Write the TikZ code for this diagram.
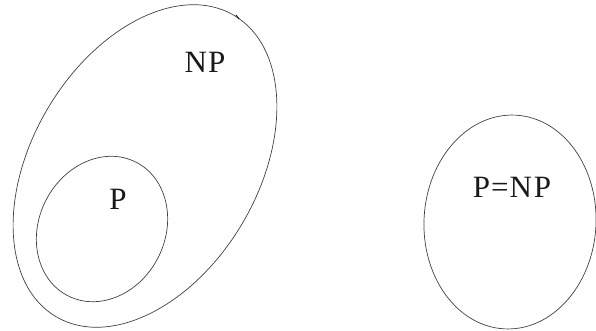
\documentclass[tikz,border=0pt]{standalone}
\usepackage{fontspec}
\setmainfont{Liberation Serif}
\begin{document}
\begin{tikzpicture}[x=1pt,y=1pt,
  setline/.style={draw=black!75,line width=0.7pt},
  lbl/.style={font=\fontsize{31}{31}\selectfont,inner sep=0pt,text=black!90}]
\useasboundingbox (0,0) rectangle (596,330);
\draw[setline,rotate around={-30.6:(145,164)}] (145,164) ellipse [x radius=113,y radius=175];
\draw[setline,rotate around={-27:(102,101)}] (102,101) ellipse [x radius=63,y radius=75];
\draw[setline,rotate around={-3:(510,108)}] (510,108) ellipse [x radius=86,y radius=107];
\coordinate (t1) at (236,315);
\coordinate (t2) at (239,311);
\draw[line width=0.8pt,black] (t1) -- (t2);
\node[lbl] (np) at (205,268) {N\kern1ptP};
\node[lbl] (p) at (118,131) {P};
\node[lbl] (pnp) at (512,143) {P\kern1pt=\kern1pt N\kern2ptP};
\end{tikzpicture}
\end{document}
